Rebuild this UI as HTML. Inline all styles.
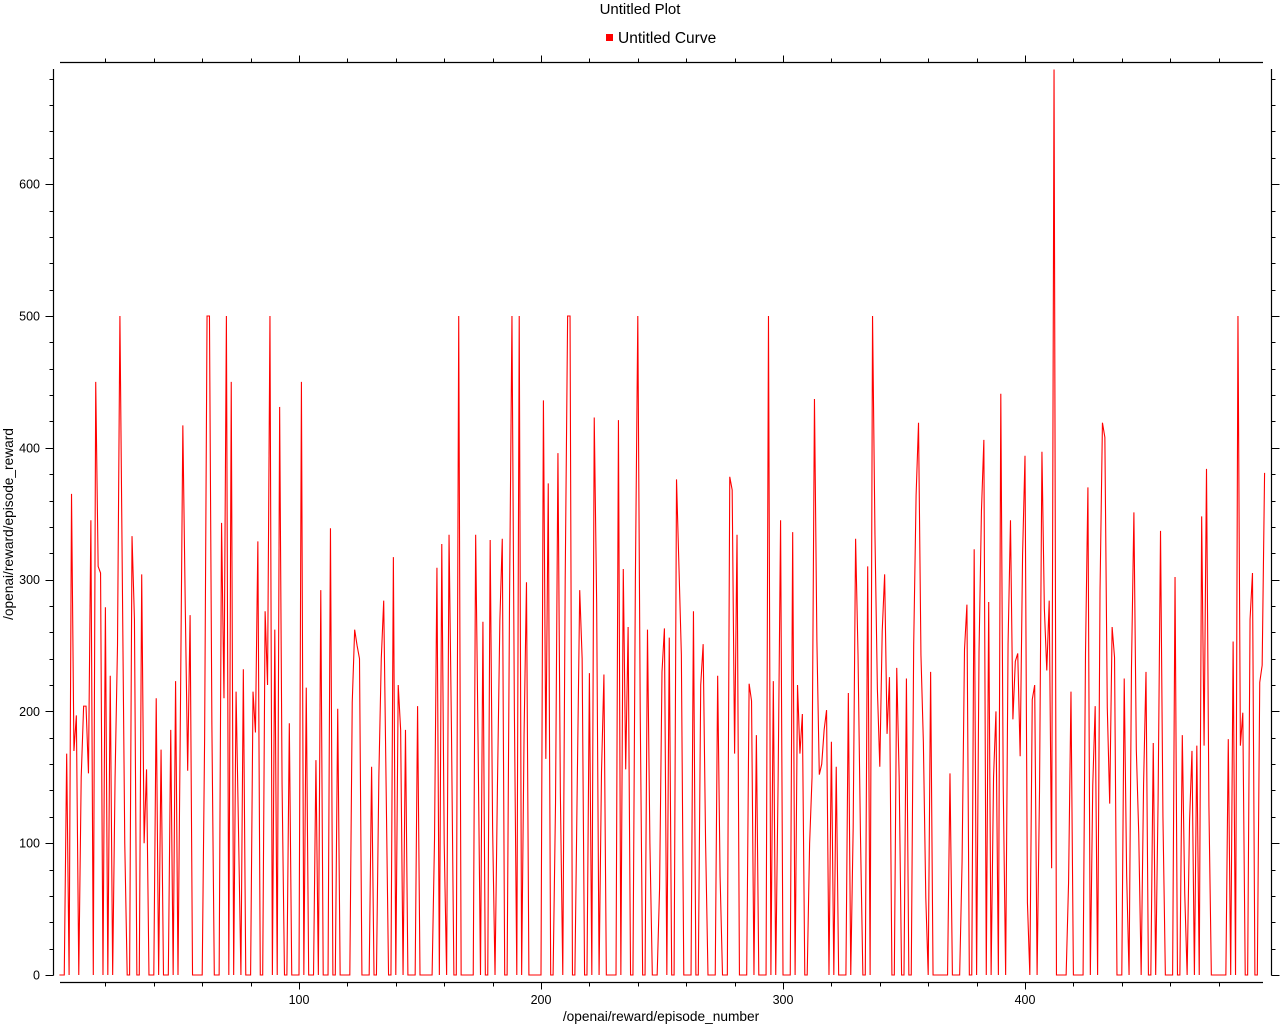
<!DOCTYPE html>
<html><head><meta charset="utf-8"><style>
html,body{margin:0;padding:0;background:#fff;}
body{width:1280px;height:1024px;overflow:hidden;font-family:"Liberation Sans","DejaVu Sans",sans-serif;}
svg text{font-family:"Liberation Sans","DejaVu Sans",sans-serif;fill:#000;}
</style></head><body>
<svg id="chart" width="1280" height="1024" viewBox="0 0 1280 1024" xmlns="http://www.w3.org/2000/svg">
<text x="640" y="14" font-size="15" text-anchor="middle">Untitled Plot</text>
<g>
<rect x="606" y="34" width="7" height="7" fill="#ff0000"/>
<text x="618" y="43" font-size="15.5">Untitled Curve</text>
</g>
<g id="axes"></g>
<g id="series"></g>
<text x="661" y="1021" font-size="13.7" text-anchor="middle">/openai/reward/episode_number</text>
<text x="0" y="0" font-size="13.7" text-anchor="middle" transform="translate(13,524) rotate(-90)">/openai/reward/episode_reward</text>
</svg>
<script>
const rewards = [
0,0,0,168,0,365,170,197,0,150,
204,204,153,345,0,450,310,305,0,279,
0,227,0,150,250,500,300,100,0,0,
333,270,0,0,304,100,156,0,0,0,
210,0,171,0,0,0,186,0,223,0,
200,417,280,155,273,0,0,0,0,0,
180,500,500,190,0,0,0,343,210,500,
0,450,0,215,110,0,232,0,0,0,
215,184,329,0,0,276,220,500,0,262,
0,431,145,0,0,191,0,0,0,0,
450,0,218,0,0,0,163,0,292,0,
0,0,339,0,0,202,0,0,0,0,
0,207,262,250,240,0,0,0,0,158,
0,0,151,240,284,143,0,0,317,0,
220,186,0,186,0,0,0,0,204,0,
0,0,0,0,0,103,309,0,327,100,
0,334,186,0,0,500,0,0,0,0,
0,0,334,177,0,268,0,0,330,112,
0,143,269,331,0,0,286,500,200,0,
500,0,182,298,0,0,0,0,0,0,
436,164,373,0,0,130,396,138,0,300,
500,500,0,0,148,292,240,0,0,229,
0,423,282,0,154,228,0,0,0,0,
0,421,0,308,156,264,0,0,300,500,
200,0,0,262,100,0,0,0,66,230,
263,0,256,0,0,376,310,243,0,0,
0,0,276,0,0,220,251,102,0,0,
0,0,227,75,0,0,0,378,368,168,
334,0,0,0,0,221,208,0,182,0,
0,0,0,500,0,223,0,150,345,0,
0,0,0,336,0,220,168,198,0,0,
100,150,437,254,152,160,186,201,0,177,
0,158,0,0,0,0,214,0,112,331,
243,107,0,0,310,0,500,334,217,158,
261,304,183,226,0,0,233,150,0,0,
225,0,0,250,364,419,243,177,59,0,
230,0,0,0,0,0,0,0,153,0,
0,0,0,86,247,281,0,0,323,0,
245,352,406,0,283,0,150,200,0,441,
144,0,251,345,194,238,244,166,319,394,
55,0,209,220,0,140,397,278,231,284,
81,687,0,0,0,0,0,70,215,0,
0,0,0,0,244,370,0,144,204,0,
291,419,408,203,130,264,241,0,0,0,
225,76,0,233,351,171,107,0,145,230,
0,0,176,0,133,337,120,0,0,0,
0,302,0,0,182,62,0,117,170,0,
174,0,348,174,384,128,0,0,0,0,
0,0,0,179,0,253,0,500,174,199,
0,0,270,305,0,0,222,235,381
];
const firstEpisode = 1;
const xTickValues = [100,200,300,400];
const yTickValues = [0,100,200,300,400,500,600];

const NS = 'http://www.w3.org/2000/svg';
function xs(e){ return 57 + 2.42*e; }
function ys(v){ return 975 - 1.318*v; }
function mk(tag, attrs, parent){
  const el = document.createElementNS(NS, tag);
  for (const k in attrs) el.setAttribute(k, attrs[k]);
  parent.appendChild(el);
  return el;
}
const axes = document.getElementById('axes');
const series = document.getElementById('series');
let l = mk('line',{x1:53.5,y1:69,x2:53.5,y2:975.5,stroke:'#000','stroke-width':1.2},axes);


l = mk('line',{x1:1271.5,y1:69,x2:1271.5,y2:975.5,stroke:'#000','stroke-width':1.2},axes);


l = mk('line',{x1:60,y1:982.5,x2:1263,y2:982.5,stroke:'#000','stroke-width':1.2},axes);


l = mk('line',{x1:60,y1:62.5,x2:1263,y2:62.5,stroke:'#000','stroke-width':1.2},axes);


for (let v = 0; v <= 680; v += 20){
  const y = Math.round(ys(v)) + 0.5;
  const len = (v % 100 === 0) ? 8 : 4;
  let t = mk('line',{x1:53.5-len,y1:y,x2:53.5,y2:y,stroke:'#000','stroke-width':1},axes);
  
  
  t = mk('line',{x1:1271.5,y1:y,x2:1271.5+len,y2:y,stroke:'#000','stroke-width':1},axes);
  
  
}
for (let e = 20; e <= 498; e += 20){
  const x = Math.round(xs(e)) + 0.5;
  const len = (e % 100 === 0) ? 7 : 4;
  let t = mk('line',{x1:x,y1:982.5,x2:x,y2:982.5+len,stroke:'#000','stroke-width':1},axes);
  
  
  t = mk('line',{x1:x,y1:62.5-len,x2:x,y2:62.5,stroke:'#000','stroke-width':1},axes);
  
  
}
yTickValues.forEach(v => {
  const t = mk('text',{x:40,y:ys(v)+4.5,'font-size':12.5,'text-anchor':'end'},axes);
  t.textContent = String(v);
  
  
});
xTickValues.forEach(v => {
  const t = mk('text',{x:xs(v),y:1004,'font-size':12.5,'text-anchor':'middle'},axes);
  t.textContent = String(v);
  
  
});
const pts = rewards.map((v,i) => xs(firstEpisode + i).toFixed(2) + ',' + ys(v).toFixed(2)).join(' ');
const line = mk('polyline',{points:pts,fill:'none',stroke:'#ff0000','stroke-width':1.1},series);


</script>
</body></html>
